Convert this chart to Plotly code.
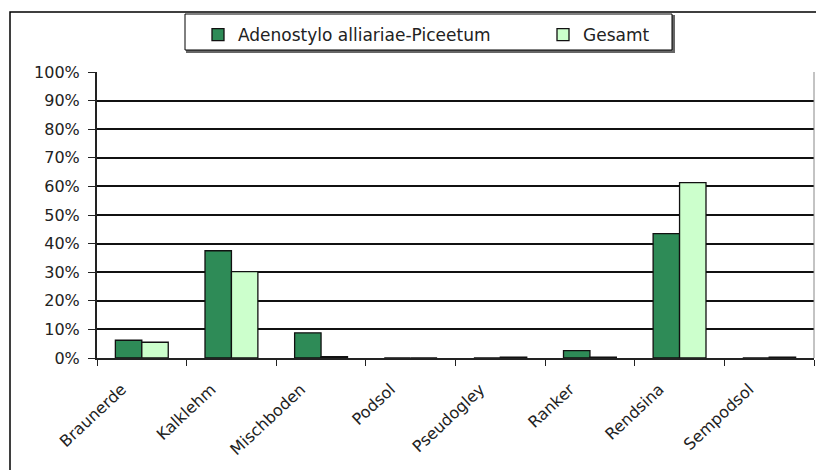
import plotly.graph_objects as go

categories = ["Braunerde", "Kalklehm", "Mischboden", "Podsol", "Pseudogley", "Ranker", "Rendsina", "Sempodsol"]
adenostylo = [6.2, 37.5, 8.8, 0.0, 0.0, 2.6, 43.5, 0.0]
gesamt = [5.5, 30.2, 0.5, 0.0, 0.3, 0.3, 61.3, 0.3]
series_names = ["Adenostylo alliariae-Piceetum", "Gesamt"]
y_ticks = [0, 10, 20, 30, 40, 50, 60, 70, 80, 90, 100]
y_labels = [f"{v}%" for v in y_ticks]

fig = go.Figure()
fig.add_trace(go.Bar(x=categories, y=adenostylo, name=series_names[0],
                     marker=dict(color="#2E8B57", line=dict(color="#111111", width=1.3))))
fig.add_trace(go.Bar(x=categories, y=gesamt, name=series_names[1],
                     marker=dict(color="#CCFFCC", line=dict(color="#111111", width=1.3))))

W, H = 816, 470
L, R, T, B = 97, 2, 72, 112
pw, ph = W - L - R, H - T - B

def px(x):
    return (x - L) / pw

def py(y):
    return (H - B - y) / ph

FONT = "DejaVu Sans, Liberation Sans, Arial, sans-serif"

fig.update_layout(
    width=W, height=H,
    margin=dict(l=L, r=R, t=T, b=B, autoexpand=False),
    paper_bgcolor="white", plot_bgcolor="white",
    font=dict(family=FONT, size=16, color="#222222"),
    barmode="group", bargap=0.41, bargroupgap=0,
    showlegend=True,
    legend=dict(orientation="h", x=px(198), xanchor="left", y=py(17), yanchor="top",
                borderwidth=0, bgcolor="rgba(0,0,0,0)",
                font=dict(size=17), itemwidth=30, entrywidth=300, entrywidthmode="pixels"),
    xaxis=dict(tickangle=-43, ticks="outside", ticklen=6, tickcolor="#222222",
               tickson="boundaries", showline=True, linecolor="#222222", linewidth=1.5,
               showgrid=False, tickfont=dict(size=16), ticklabelstandoff=14,
               ticklabelshift=-20),
    yaxis=dict(range=[0, 100], tickvals=y_ticks, ticktext=y_labels, ticks="outside",
               ticklen=7, tickcolor="#222222", showline=True, linecolor="#222222",
               linewidth=2, showgrid=True, gridcolor="#111111", gridwidth=1.5,
               zeroline=False, tickfont=dict(size=16), ticklabelstandoff=5),
    shapes=[
        dict(type="rect", xref="paper", yref="paper", x0=px(10), y0=-0.6, x1=1.2, y1=py(12),
             line=dict(color="black", width=1.5), fillcolor="rgba(0,0,0,0)", layer="below"),
        dict(type="line", xref="paper", yref="paper", x0=1, x1=1, y0=0, y1=1,
             line=dict(color="#888888", width=1)),
        dict(type="rect", xref="paper", yref="paper", x0=px(187), y0=py(52), x1=px(674), y1=py(16),
             line=dict(color="#666666", width=2), fillcolor="#666666", layer="below"),
        dict(type="rect", xref="paper", yref="paper", x0=px(185), y0=py(50), x1=px(672), y1=py(14),
             line=dict(color="black", width=1), fillcolor="white", layer="below"),
    ],
)

fig.write_html(
    "out.html",
    config={"displayModeBar": False},
    post_script="document.body.style.margin='0';document.body.style.overflow='hidden';",
)
